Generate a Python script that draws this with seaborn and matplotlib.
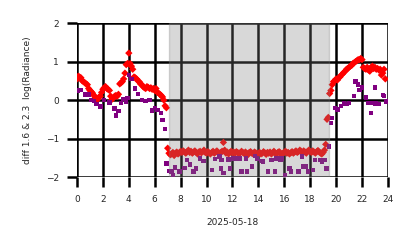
import numpy as np
import pandas as pd
import matplotlib
matplotlib.use("Agg")
import matplotlib.pyplot as plt
import seaborn as sns

# ---- data ----
red_pre = [0.55, 0.62, 0.60, 0.58, 0.50, 0.48, 0.45, 0.42, 0.40, 0.30,
           0.25, 0.22, 0.18, 0.12, 0.08, 0.05, 0.02, 0.08, 0.10, 0.20,
           0.28, 0.32, 0.35, 0.30, 0.28, 0.25, 0.10, 0.02, 0.05, 0.10,
           0.12, 0.10, 0.15, 0.42, 0.45, 0.48, 0.55, 0.70, 0.92, 0.95,
           1.22, 0.95, 0.88, 0.80, 0.60, 0.58, 0.55, 0.50, 0.48, 0.42,
           0.40, 0.35, 0.32, 0.30, 0.35, 0.33, 0.30, 0.32, 0.28, 0.30,
           0.25, 0.30, 0.20, 0.18, 0.15, 0.12, 0.08, 0.00, -0.15, -0.20,
           -1.25]
red_day = [-1.38, -1.42, -1.40, -1.36, -1.44, -1.38, -1.35, -1.40, -1.37, -1.33,
           -1.36, -1.32, -1.35, -1.38, -1.34, -1.30, -1.36, -1.33, -1.38, -1.35,
           -1.32, -1.36, -1.40, -1.35, -1.33, -1.37, -1.34, -1.30, -1.36, -1.38,
           -1.34, -1.37, -1.40, -1.36, -1.33, -1.38, -1.35, -1.32, -1.36, -1.39,
           -1.36, -1.33, -1.10, -1.30, -1.38, -1.35, -1.40, -1.36, -1.33, -1.37,
           -1.35, -1.38, -1.34, -1.36, -1.40, -1.37, -1.33, -1.36, -1.39, -1.35,
           -1.38, -1.42, -1.36, -1.34, -1.38, -1.40, -1.35, -1.37, -1.43, -1.38,
           -1.36, -1.40, -1.38, -1.34, -1.37, -1.41, -1.36, -1.38, -1.35, -1.40,
           -1.37, -1.33, -1.38, -1.40, -1.36, -1.34, -1.37, -1.42, -1.38, -1.35,
           -1.33, -1.38, -1.36, -1.40, -1.37, -1.34, -1.38, -1.35, -1.32, -1.36,
           -1.34, -1.30, -1.33, -1.36, -1.32, -1.35, -1.38, -1.33, -1.30, -1.34,
           -1.36, -1.32, -1.35, -1.38, -1.34, -1.31, -1.35, -1.38, -1.40, -1.36,
           -1.30, -1.15]
red_post = [-0.50, -0.45, 0.17, 0.25, 0.40, 0.48, 0.50, 0.55, 0.52, 0.58,
            0.60, 0.65, 0.68, 0.72, 0.75, 0.80, 0.82, 0.85, 0.88, 0.90,
            0.95, 0.97, 1.00, 1.02, 1.05, 1.05, 1.08, 1.05, 0.85, 0.82,
            0.80, 0.85, 0.78, 0.75, 0.85, 0.88, 0.82, 0.85, 0.80, 0.82,
            0.78, 0.80, 0.65, 0.70, 0.80, 0.55]
red_v = red_pre + red_day + red_post
red_t = list(np.arange(len(red_v)) * 24.0 / 240.0)

purple_t = [0.1, 0.3, 0.6, 0.9, 1.1, 1.3, 1.5, 1.8, 2.1, 2.5,
            2.9, 3.0, 3.2, 3.4, 3.6, 3.8, 3.9, 4.0, 4.2, 4.5,
            4.7, 5.0, 5.3, 5.6, 5.8, 6.0, 6.2, 6.5, 6.6, 6.8,
            6.92, 7.1, 7.3, 7.4, 7.55, 7.9, 8.3, 8.5, 8.7, 9.0,
            9.2, 9.5, 9.75, 10.4, 10.65, 11.0, 11.1, 11.15, 11.3, 11.7,
            11.8, 12.05, 12.3, 12.6, 12.7, 13.05, 13.1, 13.5, 13.75, 13.9,
            14.25, 14.35, 14.75, 15.0, 15.3, 15.4, 15.7, 15.8, 16.05, 16.4,
            16.5, 17.1, 17.35, 17.45, 17.7, 17.85, 18.2, 18.35, 18.75, 18.9,
            19.1, 19.25, 19.45, 19.6, 19.7, 19.9, 20.1, 20.4, 20.6, 20.8,
            21.0, 21.4, 21.5, 21.7, 21.8, 22.0, 22.3, 22.5, 22.7, 22.8,
            23.0, 23.05, 23.3, 23.6, 23.7, 23.9]
purple_v = [0.25, 0.26, 0.14, 0.14, 0.00, -0.02, -0.10, -0.17, 0.00, -0.06,
            -0.22, -0.40, -0.28, -0.08, 0.02, -0.04, 0.06, 0.65, 0.55, 0.30,
            0.16, 0.00, -0.03, 0.00, -0.27, -0.20, -0.26, -0.33, -0.52, -0.75,
            -1.65, -1.84, -1.86, -1.95, -1.75, -1.86, -1.76, -1.56, -1.67, -1.86,
            -1.78, -1.52, -1.58, -1.82, -1.53, -1.47, -1.78, -1.56, -1.90, -1.54,
            -1.78, -1.52, -1.52, -1.52, -1.86, -1.52, -1.86, -1.73, -1.45, -1.52,
            -1.58, -1.60, -1.86, -1.56, -1.86, -1.52, -1.56, -1.52, -1.95, -1.78,
            -1.86, -1.86, -1.47, -1.73, -1.73, -1.86, -1.82, -1.56, -1.56, -1.60,
            -1.56, -1.78, -1.21, -0.59, -0.46, -0.20, -0.24, -0.16, -0.09, -0.10,
            -0.07, 0.10, 0.48, 0.40, 0.26, 0.33, 0.07, -0.07, -0.33, -0.07,
            0.33, -0.09, -0.11, 0.13, 0.10, -0.04]

night_start, night_end = 7.1, 19.45
x_ticks = list(range(0, 25, 2))
y_ticks = [-2, -1, 0, 1, 2]
x_label = "2025-05-18"
y_label = "diff 1.6 & 2.3  log(Radiance)"

red_df = pd.DataFrame({"t": red_t, "v": red_v})
pur_df = pd.DataFrame({"t": purple_t, "v": purple_v})

sns.set_theme(style="white")
plt.rcParams['font.family'] = ['DejaVu Sans']

fig = plt.figure(figsize=(4.14, 2.48), dpi=100)
ax = fig.add_axes([0.186, 0.286, 0.751, 0.621])

sns.scatterplot(data=red_df, x="t", y="v", ax=ax, marker="D", s=14,
                color="#ff0000", edgecolor="none", linewidth=0)
sns.scatterplot(data=pur_df, x="t", y="v", ax=ax, marker="s", s=10,
                color="#800080", edgecolor="none", linewidth=0)
ax.axvspan(night_start, night_end, color="gray", alpha=0.3, lw=1)

ax.set_xlim(0, 24)
ax.set_ylim(-2, 2)
ax.set_xticks(x_ticks)
ax.set_yticks(y_ticks)
ax.grid(True, color="black", linewidth=1.8)
for s in ax.spines.values():
    s.set_visible(False)
ax.tick_params(axis="both", which="major", length=7, width=1.8, color="black",
               labelsize=6.5, direction="out", pad=6, left=True, bottom=True)
ax.set_xlabel(x_label, fontsize=6.5, labelpad=10)
ax.set_ylabel(y_label, fontsize=6.5, labelpad=10)

fig.savefig("out.png", dpi=100)
